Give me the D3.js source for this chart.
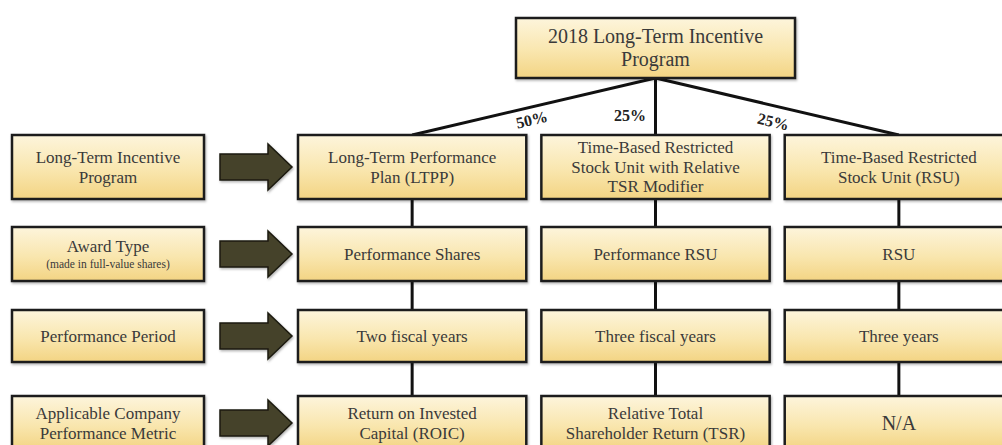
<!DOCTYPE html>
<html>
<head>
<meta charset="utf-8">
<script src="https://cdn.jsdelivr.net/npm/d3@7"></script>
<style>
  body { margin: 0; background: #fff; }
  svg { display: block; }
  text { font-family: "Liberation Serif", "DejaVu Serif", serif; fill: #3a3a3a; }
</style>
</head>
<body>
<div id="chart"></div>
<script>
const width = 1002;
const height = 445;

// data
const topTitle = ["2018 Long-Term Incentive", "Program"];
const plans = ["ltpp", "psu", "rsu"];
const weights = ["50%", "25%", "25%"];
const rowLabels = [
  ["Long-Term Incentive", "Program"],
  ["Award Type"],
  ["Performance Period"],
  ["Applicable Company", "Performance Metric"],
];
const rowNotes = [null, "(made in full-value shares)", null, null];
const cells = [
  [["Long-Term Performance", "Plan (LTPP)"], ["Time-Based Restricted", "Stock Unit with Relative", "TSR Modifier"], ["Time-Based Restricted", "Stock Unit (RSU)"]],
  [["Performance Shares"], ["Performance RSU"], ["RSU"]],
  [["Two fiscal years"], ["Three fiscal years"], ["Three years"]],
  [["Return on Invested", "Capital (ROIC)"], ["Relative Total", "Shareholder Return (TSR)"], ["N/A"]],
];

// layout
const rowTops = [135, 227, 310, 396];
const rowHeights = [64, 54, 52, 54];
const labelX = 12, labelW = 192;
const topBox = { x: 516, y: 18, w: 279, h: 60 };

const x = d3.scaleBand().domain(plans).range([298, 1013]).paddingInner(0.062).paddingOuter(0);
const rowIdx = d3.range(rowLabels.length);
const yTop = d3.scaleOrdinal().domain(rowIdx).range(rowTops);
const yH = d3.scaleOrdinal().domain(rowIdx).range(rowHeights);

const svg = d3.select("#chart").append("svg")
  .attr("width", width).attr("height", height)
  .attr("viewBox", `0 0 ${width} ${height}`);

const defs = svg.append("defs");
const grad = defs.append("linearGradient").attr("id", "boxFill")
  .attr("x1", 0).attr("y1", 0).attr("x2", 0).attr("y2", 1);
grad.append("stop").attr("offset", "0%").attr("stop-color", "#fdf5dc");
grad.append("stop").attr("offset", "55%").attr("stop-color", "#f9e6ae");
grad.append("stop").attr("offset", "100%").attr("stop-color", "#f3d483");

const shadow = defs.append("filter").attr("id", "shadow")
  .attr("x", "-5%").attr("y", "-5%").attr("width", "115%").attr("height", "125%");
shadow.append("feDropShadow").attr("dx", 1).attr("dy", 1.5).attr("stdDeviation", 1.2)
  .attr("flood-color", "#000").attr("flood-opacity", 0.3);

function box(g, bx, by, bw, bh) {
  g.append("rect")
    .attr("x", bx).attr("y", by).attr("width", bw).attr("height", bh)
    .attr("fill", "url(#boxFill)")
    .attr("stroke", "#1f1f1f").attr("stroke-width", 2.5)
    .attr("filter", "url(#shadow)");
}

function lines(g, cx, cy, arr, size, lh) {
  const t = g.append("text").attr("text-anchor", "middle").style("font-size", size + "px");
  const y0 = cy - (arr.length - 1) * lh / 2 + size * 0.33;
  arr.forEach((s, i) => t.append("tspan").attr("x", cx).attr("y", y0 + i * lh).text(s));
  return t;
}

const cx = (p) => x(p) + x.bandwidth() / 2;

// connectors
const conn = svg.append("g").attr("stroke", "#111").attr("stroke-width", 3).attr("fill", "none");
const topCx = topBox.x + topBox.w / 2;
plans.forEach((p) => {
  conn.append("line").attr("x1", topCx).attr("y1", topBox.y + topBox.h)
    .attr("x2", cx(p)).attr("y2", yTop(0));
  rowIdx.slice(0, -1).forEach((r) => {
    conn.append("line").attr("x1", cx(p)).attr("x2", cx(p))
      .attr("y1", yTop(r) + yH(r)).attr("y2", yTop(r + 1));
  });
});

// weight labels
const angle = Math.atan2(yTop(0) - (topBox.y + topBox.h), topCx - cx(plans[0])) * 180 / Math.PI;
const wPos = [
  { x: 533, y: 125, r: -angle },
  { x: 630, y: 121, r: 0 },
  { x: 772, y: 127, r: angle },
];
weights.forEach((w, i) => {
  svg.append("text")
    .attr("transform", `translate(${wPos[i].x},${wPos[i].y}) rotate(${wPos[i].r})`)
    .attr("text-anchor", "middle")
    .style("font-size", "16px").style("font-weight", "bold").style("fill", "#222")
    .text(w);
});

// top box
const gTop = svg.append("g");
box(gTop, topBox.x, topBox.y, topBox.w, topBox.h);
lines(gTop, topCx, topBox.y + topBox.h / 2, topTitle, 20, 23);

// rows
rowIdx.forEach((r) => {
  const g = svg.append("g");
  const ty = yTop(r), th = yH(r), cy = ty + th / 2;
  box(g, labelX, ty, labelW, th);
  if (rowNotes[r]) {
    lines(g, labelX + labelW / 2, cy - 8, rowLabels[r], 17, 19);
    lines(g, labelX + labelW / 2, cy + 10, [rowNotes[r]], 11.5, 12);
  } else {
    lines(g, labelX + labelW / 2, cy, rowLabels[r], 17, 20);
  }

  // arrow
  const ah = 13, hh = 23, ax0 = 220, ax1 = 268, tip = 292;
  g.append("path")
    .attr("d", `M${ax0},${cy - ah}L${ax1},${cy - ah}L${ax1},${cy - hh}L${tip},${cy}L${ax1},${cy + hh}L${ax1},${cy + ah}L${ax0},${cy + ah}Z`)
    .attr("fill", "#45432c").attr("stroke", "#1b1a10").attr("stroke-width", 1.5)
    .attr("filter", "url(#shadow)");

  plans.forEach((p, j) => {
    box(g, x(p), ty, x.bandwidth(), th);
    const arr = cells[r][j];
    const lh = arr.length === 3 ? 19.5 : 20;
    const fs = arr[0] === "N/A" ? 20 : 17;
    lines(g, cx(p), cy, arr, fs, lh);
  });
});
</script>
</body>
</html>
